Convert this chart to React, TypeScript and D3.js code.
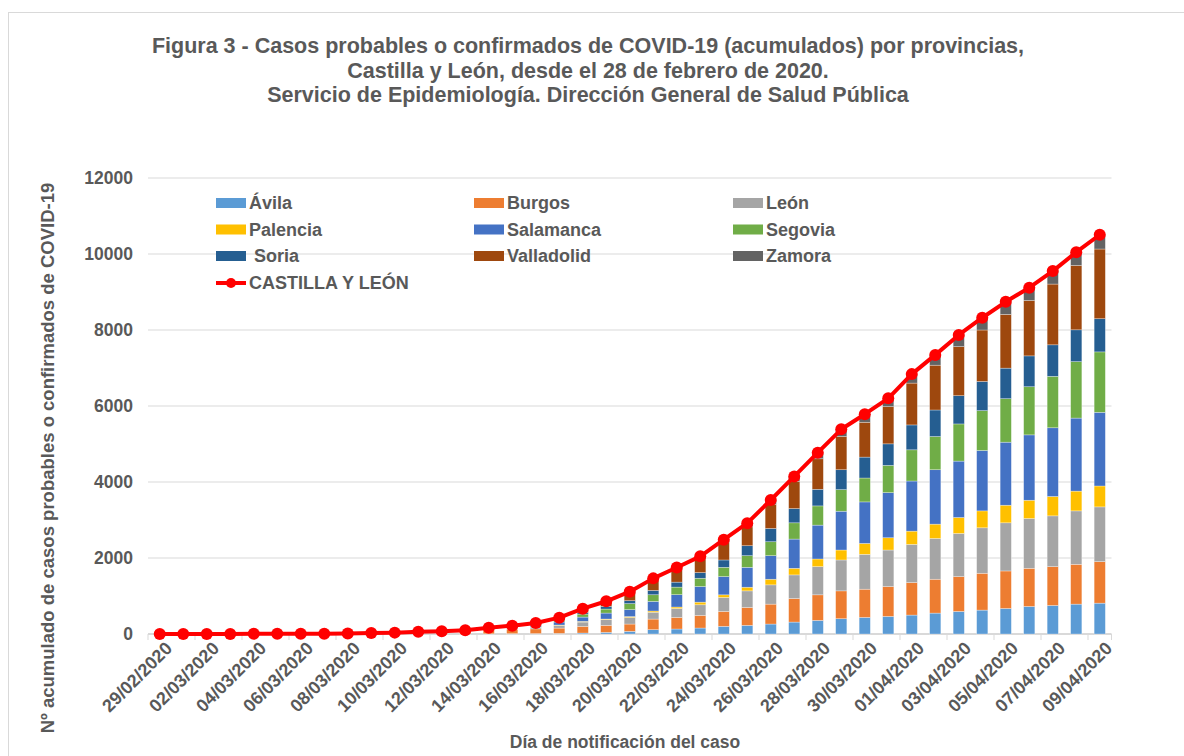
import React from "react";
import * as d3 from "d3";

const dates = [
  "29/02/2020","01/03/2020","02/03/2020","03/03/2020","04/03/2020","05/03/2020","06/03/2020","07/03/2020",
  "08/03/2020","09/03/2020","10/03/2020","11/03/2020","12/03/2020","13/03/2020","14/03/2020","15/03/2020",
  "16/03/2020","17/03/2020","18/03/2020","19/03/2020","20/03/2020","21/03/2020","22/03/2020","23/03/2020",
  "24/03/2020","25/03/2020","26/03/2020","27/03/2020","28/03/2020","29/03/2020","30/03/2020","31/03/2020",
  "01/04/2020","02/04/2020","03/04/2020","04/04/2020","05/04/2020","06/04/2020","07/04/2020","08/04/2020",
  "09/04/2020",
];

const avila = [0,0,0,0,0,0,0,0,0,1,1,2,2,3,5,8,10,15,26,44,70,114,131,157,201,227,262,314,358,402,437,463,498,550,594,629,672,725,751,786,812];
const burgos = [1,2,3,3,4,5,6,7,9,14,22,35,45,60,100,120,125,140,175,183,192,279,306,332,393,472,524,620,673,733,742,786,856,891,917,969,987,1004,1022,1048,1092];
const leon = [0,0,0,0,0,0,0,0,1,2,3,5,8,10,20,30,45,70,113,149,172,180,235,280,367,436,507,621,742,813,917,961,1004,1074,1135,1197,1267,1310,1336,1406,1441];
const palencia = [0,0,0,0,0,0,0,0,0,0,0,0,1,1,2,3,5,10,18,18,25,32,38,69,70,96,148,174,201,262,288,323,349,376,420,445,463,481,510,520,550];
const salamanca = [0,0,0,0,0,0,0,0,0,2,3,5,6,8,15,20,40,80,113,157,183,253,324,411,480,524,620,769,891,1021,1092,1188,1319,1432,1484,1590,1659,1720,1808,1922,1939];
const segovia = [0,0,0,0,0,0,0,0,0,2,3,4,4,5,10,15,25,45,79,105,157,175,200,218,244,306,367,428,506,568,629,716,821,874,978,1048,1144,1267,1354,1485,1590];
const soria = [0,0,0,0,0,0,0,0,0,0,0,1,2,2,5,8,12,20,44,70,78,114,131,149,193,262,349,375,437,524,550,567,655,698,743,768,804,812,829,838,873];
const valladolid = [0,0,0,0,0,0,0,0,2,3,4,5,6,7,8,12,22,40,70,105,192,262,324,358,454,498,638,716,803,874,917,979,1101,1179,1292,1354,1414,1458,1599,1694,1834];
const zamora = [0,0,0,0,0,0,0,0,0,0,0,1,1,1,2,3,6,10,28,30,45,55,62,70,80,95,110,130,160,190,212,220,236,271,306,323,332,336,341,349,376];

const seriesNames = ["Ávila","Burgos","León","Palencia","Salamanca","Segovia","Soria","Valladolid","Zamora"];
const seriesValues = [avila, burgos, leon, palencia, salamanca, segovia, soria, valladolid, zamora];
const seriesColors = ["#5B9BD5","#ED7D31","#A5A5A5","#FFC000","#4472C4","#70AD47","#255E91","#9E480E","#636363"];
const legendLabels = ["Ávila","Burgos","León","Palencia","Salamanca","Segovia"," Soria","Valladolid","Zamora"];
const totalName = "CASTILLA Y LEÓN";
const yTicks = [0, 2000, 4000, 6000, 8000, 10000, 12000];

const titleLines = [
  "Figura 3 - Casos probables o confirmados de COVID-19 (acumulados) por provincias,",
  "Castilla y León, desde el 28 de febrero de 2020.",
  "Servicio de Epidemiología. Dirección General de Salud Pública",
];

const FONT = "'Liberation Sans', Arial, sans-serif";
const TXT = "#595959";

export default function App() {
  const W = 1184, H = 756;
  const left = 148, right = 1111.5, top = 178, bottom = 634;

  const rows = dates.map((d, i) => {
    const r: any = { date: d };
    seriesNames.forEach((n, k) => (r[n] = seriesValues[k][i]));
    return r;
  });
  const stacked = d3.stack<any>().keys(seriesNames)(rows);
  const totals = rows.map((r) => d3.sum(seriesNames, (n) => r[n]));

  const x = d3.scaleBand<string>().domain(dates).range([left, right]).paddingInner(0.523).paddingOuter(0.2615);
  const step = x.step();
  const xc = (d: string) => (x(d) as number) + x.bandwidth() / 2;
  const y = d3.scaleLinear().domain([0, 12000]).range([bottom, top]);

  const line = d3.line<number>().x((_, i) => xc(dates[i])).y((v) => y(v));

  const legendCols = [216, 474, 733];
  const legendRows = [203, 229.5, 256, 283];

  return (
    <svg width={W} height={H} style={{ position: "absolute", left: 0, top: 0, background: "#fff" }} fontFamily={FONT}>
      <rect x={8.5} y={12.5} width={1200} height={800} fill="#fff" stroke="#D9D9D9" strokeWidth={1} />
      {titleLines.map((t, i) => (
        <text key={i} x={588} y={53 + i * 24.5} textAnchor="middle" fontSize={21.5} fontWeight="bold" fill={TXT}>{t}</text>
      ))}
      {/* gridlines */}
      {yTicks.map((t) => (
        <line key={t} x1={left} x2={right} y1={y(t)} y2={y(t)} stroke="#D9D9D9" strokeWidth={t === 0 ? 2 : 1} />
      ))}
      {yTicks.map((t) => (
        <text key={"l" + t} x={133} y={y(t)} dy="0.36em" textAnchor="end" fontSize={17.5} fontWeight="bold" fill={TXT}>{t}</text>
      ))}
      {/* x tick marks every two categories */}
      {dates.map((d, i) => i % 2 === 0 ? (
        <line key={"t" + i} x1={left + i * step} x2={left + i * step} y1={bottom} y2={bottom + 6} stroke="#D9D9D9" strokeWidth={1} />
      ) : null)}
      <line x1={right} x2={right} y1={bottom} y2={bottom + 6} stroke="#D9D9D9" strokeWidth={1} />
      {/* bars */}
      {stacked.map((s, k) => (
        <g key={s.key} fill={seriesColors[k]}>
          {s.map((seg, i) => {
            const h = y(seg[0]) - y(seg[1]);
            if (h <= 0) return null;
            return (
              <rect key={i} x={x(dates[i])} y={y(seg[1])} width={x.bandwidth()} height={h} stroke="#ffffff" strokeOpacity={0.5} strokeWidth={0.6} />
            );
          })}
        </g>
      ))}
      {/* total line */}
      <path d={line(totals) || ""} fill="none" stroke="#FF0000" strokeWidth={4} strokeLinejoin="round" />
      {totals.map((v, i) => (
        <circle key={"c" + i} cx={xc(dates[i])} cy={y(v)} r={6} fill="#FF0000" />
      ))}
      {/* x labels */}
      {dates.map((d, i) => i % 2 === 0 ? (
        <text key={"x" + i} transform={`translate(${xc(d) + 9},${bottom + 11}) rotate(-45)`} textAnchor="end" dy="0.35em" fontSize={18} fontWeight="bold" fill={TXT}>{d}</text>
      ) : null)}
      {/* axis titles */}
      <text x={625} y={748} textAnchor="middle" fontSize={17.5} fontWeight="bold" fill={TXT}>Día de notificación del caso</text>
      <text transform={`translate(48,458) rotate(-90)`} textAnchor="middle" dy="0.35em" fontSize={18.5} fontWeight="bold" fill={TXT}>Nº acumulado de casos probables o confirmados de COVID-19</text>
      {/* legend */}
      {legendLabels.map((n, k) => {
        const cx = legendCols[k % 3];
        const cy = legendRows[Math.floor(k / 3)];
        return (
          <g key={"lg" + k}>
            <rect x={cx} y={cy - 5} width={30} height={10} fill={seriesColors[k]} />
            <text x={cx + 33} y={cy} dy="0.36em" fontSize={18} fontWeight="bold" fill={TXT} style={{ whiteSpace: "pre" }}>{n}</text>
          </g>
        );
      })}
      <g>
        <line x1={216} x2={246} y1={legendRows[3]} y2={legendRows[3]} stroke="#FF0000" strokeWidth={4} />
        <circle cx={231} cy={legendRows[3]} r={5} fill="#FF0000" />
        <text x={249} y={legendRows[3]} dy="0.36em" fontSize={18} fontWeight="bold" fill={TXT}>{totalName}</text>
      </g>
    </svg>
  );
}
